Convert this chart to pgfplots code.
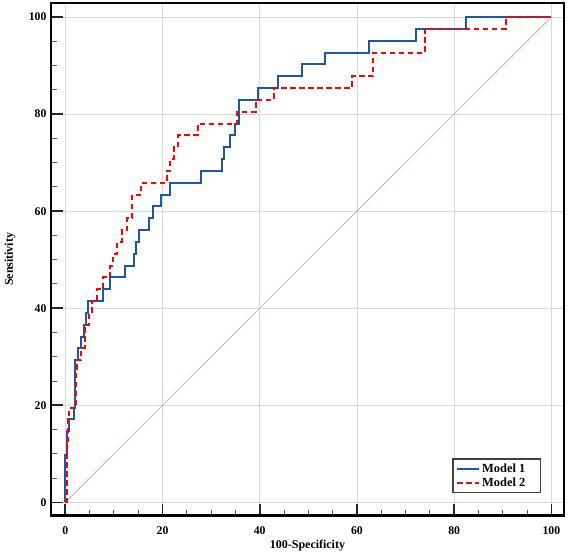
\documentclass[border=0pt]{standalone}
\usepackage{fontspec}
\setmainfont{Liberation Serif}
\usepackage{pgfplots}
\pgfplotsset{compat=1.18}
\definecolor{mblue}{RGB}{28,88,168}
\definecolor{diag}{RGB}{220,150,150}
\begin{document}
\begin{tikzpicture}
\begin{axis}[
  at={(0,0)}, anchor=south west,
  scale only axis, width=513bp, height=512.7bp,
  xmin=-2.94, xmax=102.6, ymin=-2.76, ymax=102.9,
  xtick={0,20,40,60,80,100}, ytick={0,20,40,60,80,100},
  minor x tick num=3, minor y tick num=3,
  xtick pos=bottom, ytick pos=left,
  tick align=inside,
  major tick length=12bp, minor tick length=6bp,
  major tick style={line width=1.6bp, black!85},
  minor tick style={line width=0.9bp, black!65},
  axis line style={line width=2.6bp, black},
  grid=major, major grid style={line width=0.6bp, black!15},
  /pgf/number format/assume math mode=true,
  tick label style={font=\bfseries\fontsize{11.8}{13}\selectfont},
  xticklabel style={yshift=-7bp},
  yticklabel style={xshift=-1bp},
  xlabel={100-Specificity}, ylabel={Sensitivity},
  label style={font=\bfseries\fontsize{12}{14}\selectfont},
  xlabel style={at={(axis description cs:0.5,-0.058)}, anchor=center},
  ylabel style={at={(axis description cs:-0.08,0.5)}, anchor=center},
  legend style={at={(axis cs:97.9,1.9)}, anchor=south east, draw=black!75, line width=1.5bp,
    font=\bfseries\fontsize{12.5}{14}\selectfont, cells={anchor=west}, inner xsep=3bp, inner ysep=2.5bp, row sep=0bp},
  legend image code/.code={\draw[#1] (0bp,0bp) -- (22bp,0bp);},
]
\addplot[diag, line width=0.6bp, forget plot] coordinates {(0,0) (100,100)};
\addplot[mblue, line width=2bp] coordinates {
(0,0) (0,9.76) (0.3,9.76) (0.3,14.63) (0.8,14.63) (0.8,17.07) (1.7,17.07) (1.7,19.51)
(2.1,19.51) (2.1,29.27) (2.7,29.27) (2.7,31.71) (3.2,31.71) (3.2,34.15) (3.9,34.15) (3.9,36.59)
(4.3,36.59) (4.3,39.02) (4.7,39.02) (4.7,41.46) (7.7,41.46) (7.7,43.9) (9.3,43.9) (9.3,46.34)
(12.3,46.34) (12.3,48.78) (14.2,48.78) (14.2,51.22) (14.5,51.22) (14.5,53.66) (15.2,53.66) (15.2,56.1)
(17.2,56.1) (17.2,58.54) (18.0,58.54) (18.0,60.98) (19.7,60.98) (19.7,63.41) (21.5,63.41) (21.5,65.85)
(27.9,65.85) (27.9,68.29) (32.3,68.29) (32.3,70.73) (32.6,70.73) (32.6,73.17) (33.9,73.17) (33.9,75.61)
(34.9,75.61) (34.9,78.05) (35.8,78.05) (35.8,82.93) (39.6,82.93) (39.6,85.37) (43.7,85.37) (43.7,87.8)
(48.7,87.8) (48.7,90.24) (53.4,90.24) (53.4,92.68) (62.5,92.68) (62.5,95.12) (72.2,95.12) (72.2,97.56)
(82.4,97.56) (82.4,100) (100,100)};
\addlegendentry{Model 1\hspace*{10bp}}
\addplot[red, line width=2bp, dash pattern=on 5.5bp off 3.5bp] coordinates {
(0,0) (0.3,0) (0.3,12.2) (0.6,12.2) (0.6,17.07) (0.8,17.07) (0.8,19.51) (2.2,19.51)
(2.2,26.83) (2.4,26.83) (2.4,29.27) (3.3,29.27) (3.3,31.71) (4.0,31.71) (4.0,36.59) (4.9,36.59)
(4.9,39.02) (5.4,39.02) (5.4,41.46) (6.6,41.46) (6.6,43.9) (7.8,43.9) (7.8,46.34) (9.3,46.34)
(9.3,48.78) (9.9,48.78) (9.9,51.22) (10.7,51.22) (10.7,53.66) (11.6,53.66) (11.6,56.1) (12.7,56.1)
(12.7,58.54) (13.8,58.54) (13.8,63.41) (15.6,63.41) (15.6,65.85) (20.9,65.85) (20.9,68.29) (21.6,68.29)
(21.6,70.73) (22.3,70.73) (22.3,73.17) (23.2,73.17) (23.2,75.61) (27.2,75.61) (27.2,78.05) (35.4,78.05)
(35.4,80.49) (39.2,80.49) (39.2,82.93) (42.9,82.93) (42.9,85.37) (58.9,85.37) (58.9,87.8) (63.4,87.8)
(63.4,92.68) (73.9,92.68) (73.9,97.56) (90.6,97.56) (90.6,100) (100,100)};
\addlegendentry{Model 2\hspace*{10bp}}
\end{axis}
\pgfresetboundingbox
\path[use as bounding box] (-51bp,-39.3bp) rectangle (517bp,515.7bp);
\end{tikzpicture}
\end{document}
